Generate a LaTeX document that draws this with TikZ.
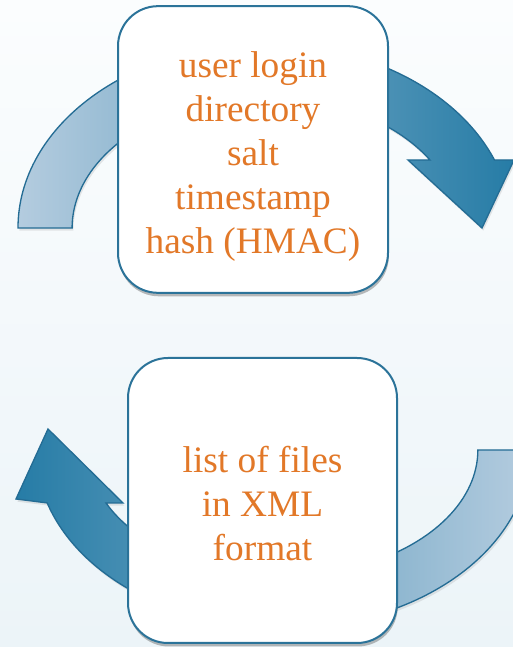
\documentclass[tikz,border=0pt]{standalone}
\usepackage{fontspec}
\setmainfont{Liberation Serif}
\usetikzlibrary{shadows}
\definecolor{boxline}{RGB}{43,115,153}
\definecolor{labeltext}{RGB}{226,120,40}
\definecolor{arrowdark}{RGB}{38,124,166}
\definecolor{arrowlight}{RGB}{180,204,223}
\definecolor{arrowline}{RGB}{36,108,148}
\definecolor{backtop}{RGB}{251,253,254}
\definecolor{backbottom}{RGB}{236,244,248}
\begin{document}
\begin{tikzpicture}[x=0.75pt,y=0.75pt,
    infobox/.style={draw=boxline, line width=1.5pt, fill=white,
      rounded corners=30pt,
      drop shadow={shadow xshift=0.6pt, shadow yshift=-2.6pt, fill=black!70, opacity=0.38}},
    boxtext/.style={align=center, text=labeltext, inner sep=0pt,
      font=\fontsize{28}{33}\selectfont},
    cyclearrow/.style={draw=arrowline, line width=1pt, line join=miter,
      drop shadow={shadow xshift=1pt, shadow yshift=-2pt, fill=black!50, opacity=0.18}}]
  \shade[top color=backtop, bottom color=backbottom] (0,0) rectangle (513,647);
  \clip (0,0) rectangle (513,647);
  \path[cyclearrow, left color=arrowlight, right color=arrowdark]
    (18,419) arc[start angle=180, end angle=21.7, x radius=247, y radius=184]
    -- (514,487) -- (482,419) -- (408,487) -- (430,487)
    arc[start angle=31.3, end angle=180, x radius=193, y radius=131] -- cycle;
  \path[cyclearrow, left color=arrowdark, right color=arrowlight]
    (530,197) arc[start angle=0, end angle=-162.7, x radius=247, y radius=178]
    -- (16,148) -- (48,218) -- (123,144) -- (106,144)
    arc[start angle=-155.1, end angle=0, x radius=195, y radius=126] -- cycle;
  \node[infobox, minimum width=202.5pt, minimum height=215pt] (request) at (253,497.5) {};
  \node[infobox, minimum width=201.75pt, minimum height=213.75pt] (reply) at (262.5,146.5) {};
  \node[boxtext] (requesttext) at ([yshift=-5.5pt]request.center)
    {user login\\directory\\salt\\timestamp\\hash (HMAC)};
  \node[boxtext] (replytext) at ([yshift=-2.5pt]reply.center)
    {list of files\\in XML\\format};
\end{tikzpicture}
\end{document}
